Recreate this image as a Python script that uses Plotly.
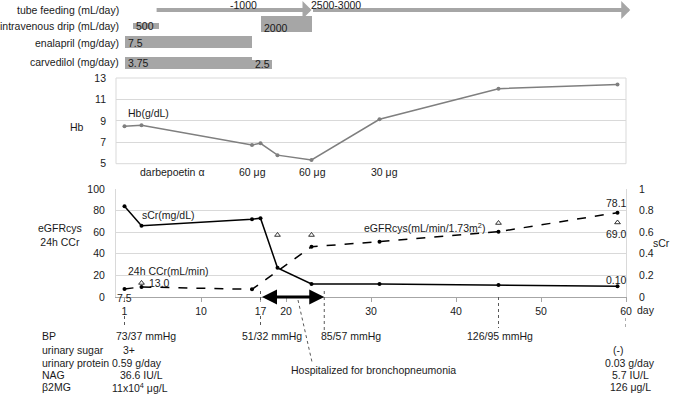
import plotly.graph_objects as go

# ---------------- data ----------------
hb_days = [1, 3, 16, 17, 19, 23, 31, 45, 59]
hb_vals = [8.5, 8.6, 6.75, 6.9, 5.8, 5.35, 9.15, 12.0, 12.4]

scr_days = [1, 3, 16, 17, 19, 23, 31, 45, 59]
scr_vals = [0.84, 0.66, 0.72, 0.73, 0.27, 0.12, 0.12, 0.11, 0.10]

egfr_days = [1, 3, 16, 23, 31, 45, 59]
egfr_vals = [7.5, 9.3, 7.1, 46.6, 51.2, 60.5, 78.1]

ccr_days = [3, 19, 23, 45, 59]
ccr_vals = [13.0, 57.4, 57.4, 68.5, 69.0]

tube_start = [4.6, 23]
tube_end = [23, 60.5]
tube_labels = ["-1000", "2500-3000"]

iv_start = [2, 17]
iv_end = [5, 23]
iv_labels = ["500", "2000"]

enal_start = [1]
enal_end = [16]
enal_labels = ["7.5"]

carv_start = [1, 16]
carv_end = [16, 18.3]
carv_labels = ["3.75", "2.5"]

hosp_start, hosp_end = 17, 24.5

x_tickvals = [1, 10, 17, 20, 30, 40, 50, 60]
x_ticktext = ["1", "10", "17", "20", "30", "40", "50", "60"]

# ---------------- layout helpers ----------------
W, H = 677, 394
L, R = 116, 626
def px(x):
    return (x - L) / (R - L)
def py(y):
    return 1 - y / H

FONT = "Liberation Sans, Arial, sans-serif"
FS = 10.5
TXT = "#1a1a1a"
BAR = "#a6a6a6"
GRID = "#d9d9d9"

fig = go.Figure()

# Hb
fig.add_trace(go.Scatter(x=hb_days, y=hb_vals, xaxis="x", yaxis="y3", mode="lines+markers",
                         line=dict(color="#7f7f7f", width=1.5),
                         marker=dict(color="#7f7f7f", size=4), showlegend=False))
# eGFRcys / CCr dashed
fig.add_trace(go.Scatter(x=egfr_days, y=egfr_vals, xaxis="x", yaxis="y", mode="lines+markers",
                         line=dict(color="black", width=1.5, dash="dash"),
                         marker=dict(color="black", size=4), showlegend=False))
fig.add_trace(go.Scatter(x=ccr_days, y=ccr_vals, xaxis="x", yaxis="y", mode="markers",
                         marker=dict(color="black", size=5, symbol="triangle-up-open", line=dict(width=0.8)),
                         showlegend=False))
# sCr
fig.add_trace(go.Scatter(x=scr_days, y=scr_vals, xaxis="x", yaxis="y2", mode="lines+markers",
                         line=dict(color="black", width=1.5),
                         marker=dict(color="black", size=4), showlegend=False))

# top medication bars (y axis 4 expressed in pixel rows)
bar_start = iv_start + enal_start + carv_start
bar_end = iv_end + enal_end + carv_end
bar_y = [26.3, 24, 42, 62.8, 64.5]
bar_w = [6, 16, 12.3, 12.3, 9]
fig.add_trace(go.Bar(y=bar_y, base=bar_start, x=[e - s for s, e in zip(bar_start, bar_end)],
                     width=bar_w, orientation="h", xaxis="x", yaxis="y4",
                     marker=dict(color=BAR, line=dict(width=0)), showlegend=False))

ann = []
def text(t, x, y, anchor="center", size=FS, **kw):
    ann.append(dict(text=t, x=px(x), y=py(y), xref="paper", yref="paper", showarrow=False,
                    xanchor=anchor, yanchor="middle", font=dict(size=size, color=TXT, family=FONT), **kw))

# bar labels
lab_y = [26, 28, 43, 63, 64]
for s, t, yy in zip(bar_start, iv_labels + enal_labels + carv_labels, lab_y):
    ann.append(dict(text=t, x=s, y=yy, xref="x", yref="y4", showarrow=False, xanchor="left",
                    yanchor="middle", xshift=1, font=dict(size=FS, color=TXT, family=FONT)))

# tube feeding arrows
for s, e in zip(tube_start, tube_end):
    ann.append(dict(text="", x=e, y=10, ax=s, ay=10, xref="x", yref="y4", axref="x", ayref="y4",
                    showarrow=True, arrowhead=1, arrowsize=0.75, arrowwidth=4, arrowcolor=BAR))
text("-1000", 243, 5)
text("2500-3000", 336, 5)

# row labels
text("tube feeding (mL/day)", 121, 10, "right")
text("intravenous drip (mL/day)", 121, 26, "right")
text("enalapril (mg/day)", 121, 43, "right")
text("carvedilol (mg/day)", 121, 62, "right")

# axis titles
text("Hb", 77, 127)
text("eGFRcys<br>24h CCr", 36, 235, "left")
text("sCr", 661, 243)

# Hb chart labels
text("Hb(g/dL)", 148, 113)
text("darbepoetin α", 172, 172)
text("60 μg", 252, 172)
text("60 μg", 312, 172)
text("30 μg", 384, 172)

# lower chart labels
text("sCr(mg/dL)", 168, 215)
text("24h CCr(mL/min)", 168, 271)
text("eGFRcys(mL/min/1.73m<sup>2</sup>)", 424, 227)
text("78.1", 616, 203)
text("69.0", 616, 234)
text("0.10", 616, 280)
text("7.5", 124, 298)
text("13.0", 159, 283)
text("day", 646, 310)

# hospitalization double arrow
ann.append(dict(text="", x=hosp_end, y=0, ax=hosp_start, ay=0, xref="x", yref="y", axref="x", ayref="y",
                showarrow=True, arrowhead=2, arrowsize=1, arrowwidth=3, arrowcolor="black",
                arrowside="end+start"))
text("Hospitalized for bronchopneumonia", 373, 370)

# table
text("BP", 40, 336, "left")
text("73/37 mmHg", 114, 336, "left")
text("51/32 mmHg", 240, 336, "left")
text("85/57 mmHg", 319, 336, "left")
text("126/95 mmHg", 500, 336)
text("urinary sugar", 40, 350, "left")
text("3+", 129, 350)
text("urinary protein", 40, 363, "left")
text("0.59 g/day", 110, 363, "left")
text("NAG", 40, 375, "left")
text("36.6 IU/L", 165, 375, "right")
text("β2MG", 40, 387, "left")
text("11x10<sup>4</sup> μg/L", 110, 387, "left")
text("(-)", 618, 350)
text("0.03 g/day", 630, 363)
text("5.7 IU/L", 630, 375)
text("126 μg/L", 630, 387)

shapes = []
def vline(day, y0, y1):
    shapes.append(dict(type="line", xref="x", yref="paper", x0=day, x1=day, y0=py(y0), y1=py(y1),
                       line=dict(color="#595959", width=1, dash="dot")))
vline(1, 316, 327)
vline(hosp_start, 291, 303)
vline(hosp_start, 316, 328)
vline(hosp_end, 291, 330)
vline(45, 297, 328)
vline(60, 318, 330)
shapes.append(dict(type="line", xref="paper", yref="paper", x0=px(298), x1=px(312), y0=py(300), y1=py(362),
                   line=dict(color="#595959", width=1, dash="dot")))
# Hb plot frame
shapes.append(dict(type="rect", xref="x domain", yref="y3 domain", x0=0, x1=1, y0=0, y1=1,
                   line=dict(color=GRID, width=1)))

fig.update_layout(
    width=W, height=H,
    margin=dict(l=L, r=W - R, t=0, b=0, autoexpand=False),
    paper_bgcolor="white", plot_bgcolor="white",
    font=dict(family=FONT, size=FS, color=TXT),
    xaxis=dict(domain=[0, 1], range=[0, 60], anchor="y", tickvals=x_tickvals, ticktext=x_ticktext,
               ticks="outside", ticklen=4, tickcolor="#a6a6a6", showline=True, linecolor="#a6a6a6",
               showgrid=False, zeroline=False, tickfont=dict(size=FS, color=TXT), automargin=False),
    yaxis=dict(domain=[py(297), py(189)], range=[0, 100], dtick=20, gridcolor=GRID, zeroline=False,
               showline=True, linecolor=GRID, ticks="", ticklabelstandoff=8, anchor="x", automargin=False),
    yaxis2=dict(overlaying="y", side="right", range=[0, 1], dtick=0.2, showgrid=False, zeroline=False,
                showline=True, linecolor=GRID, ticks="", ticklabelstandoff=10, anchor="x", automargin=False),
    yaxis3=dict(domain=[py(163.7), py(78)], range=[5, 13], tick0=5, dtick=2, gridcolor=GRID,
                zeroline=False, ticks="", ticklabelstandoff=9, anchor="x", automargin=False),
    yaxis4=dict(domain=[py(75), 1], range=[75, 0], visible=False, anchor="x", automargin=False),
    annotations=ann, shapes=shapes, bargap=0,
)

fig.write_html("out.html", config={"displayModeBar": False},
               post_script="document.body.style.margin='0';document.body.style.overflow='hidden';")
